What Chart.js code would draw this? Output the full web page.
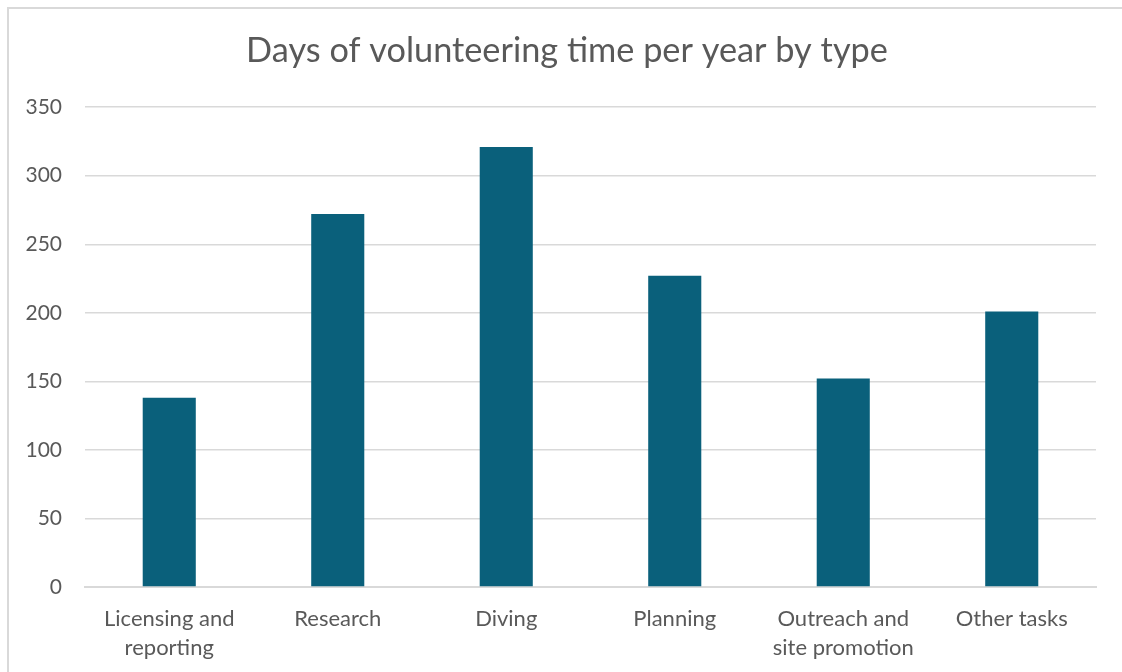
<!DOCTYPE html>
<html>
<head>
<meta charset="utf-8">
<script src="https://cdn.jsdelivr.net/npm/chart.js@4"></script>
<style>
  html, body { margin: 0; padding: 0; background: #fff; }
  #wrap { position: absolute; left: 0; top: 0; width: 1122px; height: 672px; }
  #frame { position: absolute; left: 7px; top: 7px; width: 1130px; height: 680px; border: 2px solid #d9d9d9; box-sizing: border-box; }
  canvas { position: absolute; left: 0; top: 0; }
</style>
</head>
<body>
<div id="wrap">
  <div id="frame"></div>
  <canvas id="myChart" width="1122" height="672"></canvas>
</div>
<script>
const labels = [['Licensing and', 'reporting'], 'Research', 'Diving', 'Planning', ['Outreach and', 'site promotion'], 'Other tasks'];
const days = [138, 272, 321, 227, 152, 201];
const yTicks = [0, 50, 100, 150, 200, 250, 300, 350];

const textColor = '#595959';
const fontFamily = 'Lato, "Open Sans", sans-serif';

const data = {
    labels: labels,
    datasets: [{
        label: 'Days',
        backgroundColor: '#0a607b',
        data: days,
        barPercentage: 0.315,
        categoryPercentage: 1
    }]
};

const config = {
    type: 'bar',
    data: data,
    options: {
        responsive: false,
        animation: false,
        // left padding is wide so the title centres on the frame, y axis is narrowed to match
        layout: { padding: { left: 38, right: 26, top: 0, bottom: 0 } },
        plugins: {
            legend: { display: false },
            tooltip: { enabled: false },
            title: {
                display: true,
                text: 'Days of volunteering time per year by type',
                color: textColor,
                font: { family: fontFamily, size: 34.3, weight: 'normal', lineHeight: 1.2 },
                padding: { top: 30, bottom: 36 }
            }
        },
        scales: {
            x: {
                grid: { display: false, drawTicks: false },
                border: { color: '#d9d9d9', width: 2 },
                ticks: {
                    color: textColor,
                    font: { family: fontFamily, size: 22, lineHeight: 1.32 },
                    padding: 17,
                    maxRotation: 0,
                    autoSkip: false
                },
                afterFit: (scale) => { scale.height = 85; }
            },
            y: {
                min: 0,
                max: 350,
                afterBuildTicks: (scale) => { scale.ticks = yTicks.map(v => ({ value: v })); },
                grid: { color: '#d9d9d9', lineWidth: 1.5, drawTicks: false },
                border: { display: false },
                ticks: {
                    color: textColor,
                    font: { family: fontFamily, size: 21 },
                    padding: 23
                },
                afterFit: (scale) => {
                    scale.width = 47;
                    // labels stick out past the narrowed axis, so don't clip them
                    scale._computeLabelArea = () => undefined;
                }
            }
        }
    }
};

new Chart(document.getElementById('myChart'), config);
</script>
</body>
</html>
